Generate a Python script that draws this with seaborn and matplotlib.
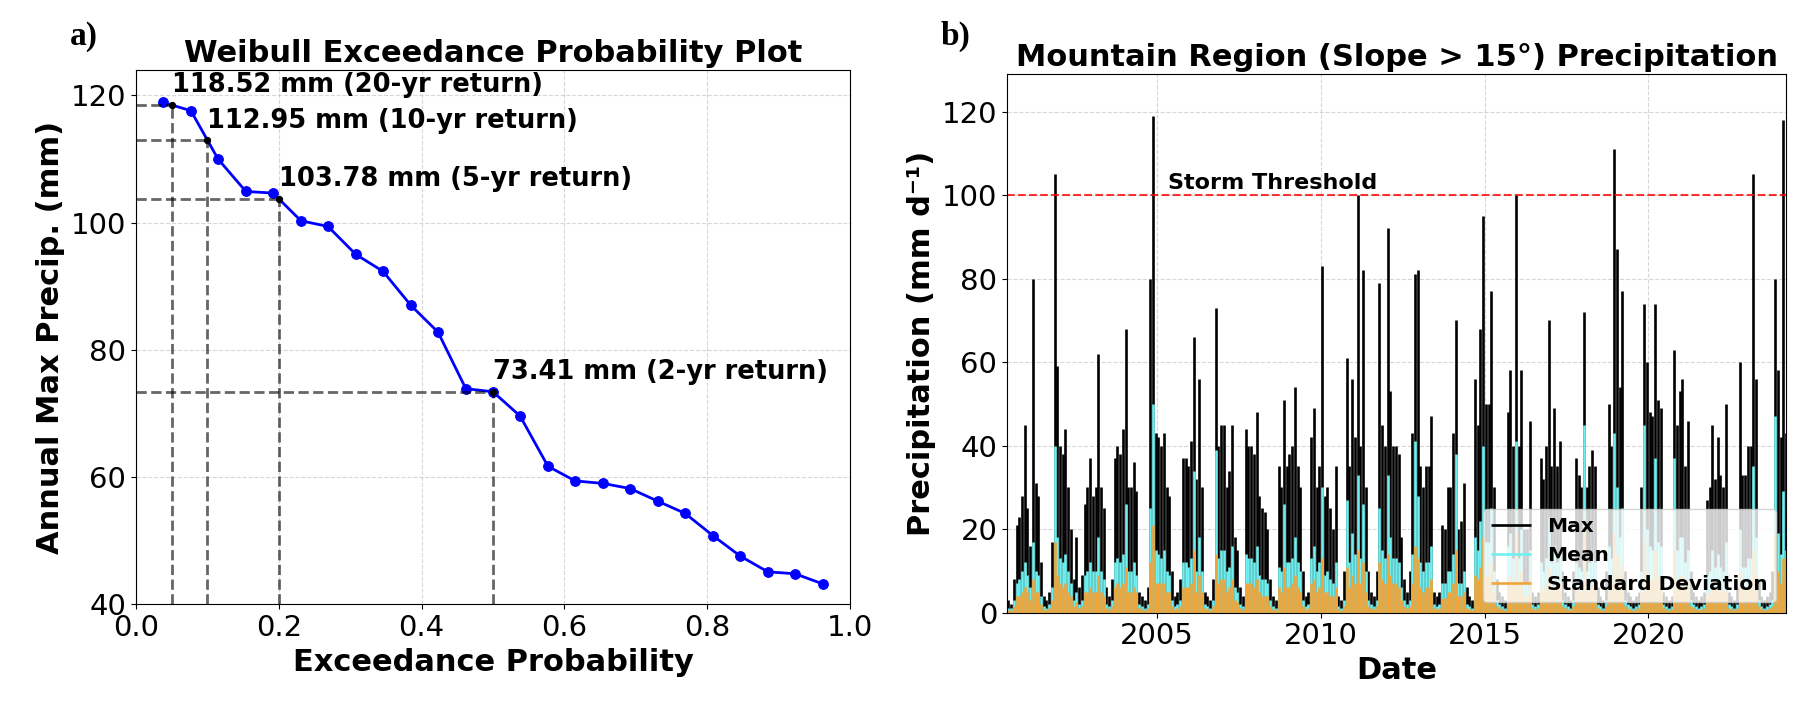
import numpy as np
import pandas as pd
import seaborn as sns
import matplotlib
matplotlib.use("Agg")
from matplotlib import pyplot as plt
import matplotlib.dates as mdates

# ---- panel a: Weibull exceedance data (25 annual maxima) ----
exceed_prob = [0.038, 0.077, 0.115, 0.154, 0.192, 0.231, 0.269, 0.308, 0.346,
               0.385, 0.423, 0.462, 0.500, 0.538, 0.577, 0.615, 0.654, 0.692,
               0.731, 0.769, 0.808, 0.846, 0.885, 0.923, 0.962]
annual_max = [118.9, 117.6, 110.0, 104.9, 104.65, 100.3, 99.4, 95.0, 92.35,
              87.0, 82.8, 73.9, 73.41, 69.6, 61.7, 59.4, 59.0, 58.2,
              56.2, 54.3, 50.8, 47.6, 45.1, 44.8, 43.2]
return_periods = [20, 10, 5, 2]
return_probs = [0.05, 0.10, 0.20, 0.50]
return_vals = [118.52, 112.95, 103.78, 73.41]

# ---- panel b: monthly peaks of daily precipitation, Jun 2000 - Mar 2024 ----
max_vals = [
    3, 2, 8, 21, 23, 28, 45,                                # 2000 (Jun-Dec)
    25, 16, 80, 31, 28, 12, 4, 3, 5, 17, 105, 59,           # 2001
    40, 38, 44, 30, 20, 8, 18, 6, 9, 26, 30, 37,            # 2002
    28, 30, 62, 30, 25, 6, 4, 8, 37, 40, 38, 44,            # 2003
    68, 30, 30, 36, 29, 5, 4, 3, 6, 80, 119, 43,            # 2004
    42, 40, 43, 30, 28, 10, 4, 5, 8, 37, 37, 35,            # 2005
    41, 66, 32, 56, 30, 5, 4, 3, 8, 73, 40, 45,             # 2006
    45, 30, 34, 45, 18, 15, 6, 4, 44, 40, 40, 38,           # 2007
    48, 28, 25, 24, 20, 8, 4, 3, 35, 30, 51, 35,            # 2008
    38, 40, 54, 35, 30, 10, 4, 5, 42, 49, 30, 35,           # 2009
    83, 28, 30, 25, 20, 35, 4, 3, 10, 61, 35, 56,           # 2010
    42, 100, 40, 82, 30, 10, 5, 4, 10, 79, 45, 40,          # 2011
    92, 53, 40, 40, 38, 18, 8, 5, 10, 43, 81, 82,           # 2012
    35, 30, 35, 35, 47, 5, 4, 5, 21, 20, 30, 30,            # 2013
    43, 70, 20, 22, 31, 6, 4, 3, 56, 45, 68, 95,            # 2014
    50, 50, 77, 30, 8, 5, 4, 3, 48, 58, 40, 100,            # 2015
    40, 58, 20, 20, 46, 5, 4, 5, 37, 32, 40, 70,            # 2016
    35, 49, 35, 41, 10, 5, 4, 3, 10, 37, 33, 30,            # 2017
    72, 30, 35, 39, 35, 6, 4, 3, 10, 50, 40, 111,           # 2018
    87, 54, 77, 10, 5, 4, 3, 4, 5, 30, 74, 60,              # 2019
    48, 47, 74, 51, 49, 5, 4, 3, 4, 63, 45, 53,             # 2020
    56, 35, 46, 10, 5, 4, 3, 4, 5, 27, 30, 45,              # 2021
    32, 42, 33, 30, 50, 5, 4, 3, 6, 60, 33, 33,             # 2022
    40, 40, 105, 56, 8, 4, 3, 4, 5, 10, 80, 58,             # 2023
    42, 118, 43,                                            # 2024 (Jan-Mar)
]
mean_vals = [
    1, 1, 3, 7, 8, 10, 12,
    9, 6, 17, 10, 9, 4, 1.5, 1, 2, 6, 40, 18,
    13, 12, 14, 10, 7, 3, 5, 2, 3, 9, 10, 12,
    10, 10, 18, 10, 8, 2, 1.5, 3, 12, 13, 12, 14,
    26, 10, 10, 12, 9, 2, 1.5, 1, 2, 25, 50, 15,
    14, 13, 15, 10, 9, 3, 1.5, 2, 3, 12, 12, 11,
    13, 34, 10, 18, 10, 2, 1.5, 1, 3, 39, 13, 15,
    15, 10, 11, 16, 6, 5, 2, 1.5, 14, 13, 13, 12,
    16, 9, 8, 8, 7, 3, 1.5, 1, 11, 10, 26, 12,
    12, 13, 18, 12, 10, 3, 1.5, 2, 13, 16, 10, 12,
    30, 9, 10, 8, 7, 12, 1.5, 1, 3, 27, 12, 19,
    14, 33, 13, 26, 10, 3, 2, 1.5, 3, 25, 15, 13,
    33, 18, 13, 13, 12, 6, 3, 2, 3, 14, 41, 28,
    12, 10, 12, 12, 16, 2, 1.5, 2, 7, 7, 10, 10,
    14, 38, 7, 7, 10, 2, 1.5, 1, 18, 15, 22, 40,
    17, 17, 25, 10, 3, 2, 1.5, 1, 16, 19, 13, 41,
    13, 20, 7, 7, 15, 2, 1.5, 2, 12, 10, 13, 23,
    12, 16, 12, 14, 3, 2, 1.5, 1, 3, 12, 11, 10,
    45, 10, 12, 13, 12, 2, 1.5, 1, 3, 16, 13, 43,
    30, 18, 25, 3, 2, 1.5, 1, 1.5, 2, 10, 45, 20,
    16, 15, 37, 17, 16, 2, 1.5, 1, 1.5, 37, 15, 18,
    18, 12, 15, 3, 2, 1.5, 1, 1.5, 2, 9, 10, 15,
    11, 14, 11, 10, 17, 2, 1.5, 1, 2, 20, 11, 11,
    13, 13, 35, 18, 3, 1.5, 1, 1.5, 2, 3, 47, 19,
    14, 29, 15,
]
std_vals = [
    0.5, 0.5, 1.5, 4, 4, 5, 6,
    5, 3, 8, 5, 5, 2, 0.8, 0.5, 1, 3, 17, 9,
    7, 6, 7, 5, 4, 1.5, 2.5, 1, 1.5, 5, 5, 6,
    5, 5, 9, 5, 4, 1, 0.8, 1.5, 6, 7, 6, 7,
    11, 5, 5, 6, 5, 1, 0.8, 0.5, 1, 12, 21, 7,
    7, 7, 7, 5, 5, 1.5, 0.8, 1, 1.5, 6, 6, 6,
    7, 15, 5, 9, 5, 1, 0.8, 0.5, 1.5, 14, 7, 8,
    8, 5, 6, 8, 3, 2.5, 1, 0.8, 7, 7, 7, 6,
    8, 5, 4, 4, 4, 1.5, 0.8, 0.5, 6, 5, 11, 6,
    6, 7, 9, 6, 5, 1.5, 0.8, 1, 7, 8, 5, 6,
    13, 5, 5, 4, 4, 6, 0.8, 0.5, 1.5, 11, 6, 9,
    7, 15, 7, 12, 5, 1.5, 1, 0.8, 1.5, 12, 8, 7,
    14, 9, 7, 7, 6, 3, 1.5, 1, 1.5, 7, 16, 13,
    6, 5, 6, 6, 8, 1, 0.8, 1, 3.5, 3.5, 5, 5,
    7, 15, 4, 4, 5, 1, 0.8, 0.5, 9, 8, 11, 18,
    9, 9, 12, 5, 1.5, 1, 0.8, 0.5, 8, 9, 7, 19,
    7, 10, 4, 4, 8, 1, 0.8, 1, 6, 5, 7, 11,
    6, 8, 6, 7, 1.5, 1, 0.8, 0.5, 1.5, 6, 6, 5,
    20, 5, 6, 7, 6, 1, 0.8, 0.5, 1.5, 8, 7, 19,
    14, 9, 12, 1.5, 1, 0.8, 0.5, 0.8, 1, 5, 18, 10,
    8, 8, 15, 9, 8, 1, 0.8, 0.5, 0.8, 15, 8, 9,
    9, 6, 8, 1.5, 1, 0.8, 0.5, 0.8, 1, 4.5, 5, 8,
    6, 7, 6, 5, 9, 1, 0.8, 0.5, 1, 10, 6, 6,
    7, 7, 15, 9, 1.5, 0.8, 0.5, 0.8, 1, 1.5, 19, 10,
    7, 13, 8,
]
storm_threshold = 100

dates = pd.date_range('2000-06-01', periods=len(max_vals), freq='MS') + pd.Timedelta(days=14)
ts = pd.DataFrame({'date': dates, 'max': max_vals, 'mean': mean_vals, 'std': std_vals})

fig = plt.figure(figsize=(18.05, 7.12), dpi=100)
ax1 = fig.add_axes([0.0753, 0.1513, 0.3956, 0.7504])
ax2 = fig.add_axes([0.5579, 0.1397, 0.4316, 0.7563])

# ---- a) Weibull plot ----
sns.lineplot(x=exceed_prob, y=annual_max, ax=ax1, color='blue', marker='o',
             markersize=7, markeredgecolor='blue', linewidth=2)
ax1.vlines(return_probs, 40, return_vals, colors='k', linestyles='--', linewidth=2, alpha=0.6)
ax1.hlines(return_vals, 0, return_probs, colors='k', linestyles='--', linewidth=2, alpha=0.6)
ax1.scatter(return_probs, return_vals, color='black', s=18, zorder=5)
for T, p, v in zip(return_periods, return_probs, return_vals):
    ax1.text(p, v + 1, f'{v:.2f} mm ({T}-yr return)', fontsize=18.5,
             fontweight='bold', ha='left', va='bottom')
ax1.set_xlim(0, 1)
ax1.set_ylim(40, 124)
ax1.set_xticks([0, 0.2, 0.4, 0.6, 0.8, 1.0])
ax1.set_yticks([40, 60, 80, 100, 120])
ax1.grid(True, linestyle='--', alpha=0.5)
ax1.set_title('Weibull Exceedance Probability Plot', fontsize=22, fontweight='bold')
ax1.set_xlabel('Exceedance Probability', fontsize=22, fontweight='bold')
ax1.set_ylabel('Annual Max Precip. (mm)', fontsize=22, fontweight='bold')
ax1.tick_params(labelsize=21)

# ---- b) mountain region time series ----
ax2.vlines(ts['date'], 0, ts['max'], color='black', linewidth=1.9, label='Max')
ax2.vlines(ts['date'], 0, ts['mean'], color='#6ff0f0', linewidth=1.9, label='Mean')
ax2.vlines(ts['date'], 0, ts['std'], color='#f0a53a', linewidth=1.9, label='Standard Deviation')
ax2.axhline(storm_threshold, color='red', linestyle='--', linewidth=1.5, alpha=0.8)
ax2.text(pd.Timestamp('2005-05-01'), storm_threshold + 0.5, 'Storm Threshold',
         fontsize=16, fontweight='bold', va='bottom')
ax2.set_xlim(pd.Timestamp('2000-06-01'), pd.Timestamp('2024-03-15'))
ax2.set_ylim(0, 129)
ax2.set_yticks([0, 20, 40, 60, 80, 100, 120])
ax2.xaxis.set_major_locator(mdates.YearLocator(5))
ax2.xaxis.set_major_formatter(mdates.DateFormatter('%Y'))
ax2.grid(True, linestyle='--', alpha=0.5)
ax2.set_title('Mountain Region (Slope > 15°) Precipitation', fontsize=22, fontweight='bold')
ax2.set_xlabel('Date', fontsize=22, fontweight='bold')
ax2.set_ylabel('Precipitation (mm d⁻¹)', fontsize=22, fontweight='bold')
ax2.tick_params(labelsize=21)
ax2.legend(loc='lower right', prop={'weight': 'bold', 'size': 14.5})

fig.text(0.0388, 0.937, 'a)', fontsize=24, fontweight='bold', family='Liberation Serif')
fig.text(0.521, 0.937, 'b)', fontsize=24, fontweight='bold', family='Liberation Serif')

fig.savefig('out.png', dpi=100)
